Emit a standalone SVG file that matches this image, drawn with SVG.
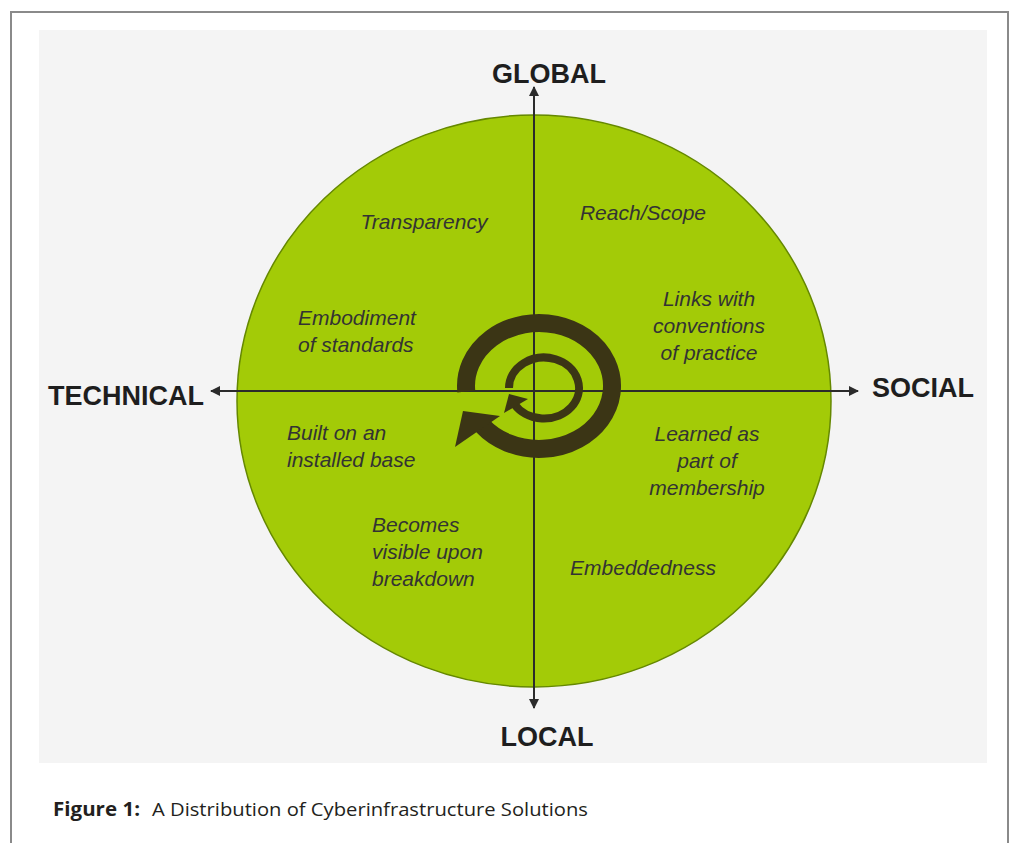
<svg xmlns="http://www.w3.org/2000/svg" width="1014" height="843" viewBox="0 0 1014 843">
  <defs>
    <style>
      .frame { fill: none; stroke: #8a8a8a; stroke-width: 2; }
      .axis { stroke: #2b2b2b; stroke-width: 2; fill: none; }
      .axis-label { font-family: "Liberation Sans", Arial, sans-serif; font-weight: bold; font-size: 27px; fill: #1e1e1e; }
      .item { font-family: "Liberation Sans", Arial, sans-serif; font-style: italic; font-size: 21px; fill: #333333; }
      .cycle { fill: none; stroke: #3b3515; }
      .cycle-head { fill: #3b3515; }
      .caption { font-family: "Open Sans", "Liberation Sans", sans-serif; font-size: 19px; fill: #231f20; }
    </style>
    <marker id="arrow" viewBox="0 0 10 10" refX="9" refY="5" markerWidth="5" markerHeight="5" orient="auto-start-reverse" markerUnits="strokeWidth">
      <path d="M0,0 L10,5 L0,10 z" fill="#2b2b2b"/>
    </marker>
  </defs>

  <!-- page frame -->
  <rect x="0" y="0" width="1014" height="843" fill="#ffffff"/>
  <path class="frame" d="M11,843 V12 H1008 V843"/>

  <!-- figure background -->
  <rect x="39" y="30" width="948" height="733" fill="#f4f4f4"/>

  <!-- main disc -->
  <g id="disc">
    <ellipse cx="534" cy="401" rx="297" ry="286" fill="#a3cb07" stroke="#658800" stroke-width="1.5"/>
  </g>

  <!-- axes -->
  <g id="connectors">
    <line class="axis" x1="534" y1="391" x2="858" y2="391" marker-end="url(#arrow)"/>
    <line class="axis" x1="534" y1="391" x2="211" y2="391" marker-end="url(#arrow)"/>
    <line class="axis" x1="534" y1="391" x2="534" y2="87" marker-end="url(#arrow)"/>
    <line class="axis" x1="534" y1="391" x2="534" y2="708" marker-end="url(#arrow)"/>
  </g>

  <!-- central cycle symbol -->
  <g id="cycle">
    <path class="cycle" stroke-width="18" d="M466.3,391.5 A73,63 0 1 1 482.3,425.6"/>
    <polygon class="cycle-head" points="463,411 500,416 455,447"/>
    <path class="cycle" stroke-width="8" d="M509,388 A35,30.5 0 1 1 514.3,404.2"/>
    <polygon class="cycle-head" points="509,394 528,399 504,413"/>
  </g>

  <!-- axis labels -->
  <g id="label-global"><text class="axis-label" x="549" y="83" text-anchor="middle">GLOBAL</text></g>
  <g id="label-local"><text class="axis-label" x="547" y="746" text-anchor="middle">LOCAL</text></g>
  <g id="label-technical"><text class="axis-label" x="48" y="405">TECHNICAL</text></g>
  <g id="label-social"><text class="axis-label" x="872" y="397">SOCIAL</text></g>

  <!-- quadrant items -->
  <g id="transparency"><text class="item" x="424" y="229" text-anchor="middle">Transparency</text></g>
  <g id="reach-scope"><text class="item" x="643" y="220" text-anchor="middle">Reach/Scope</text></g>
  <g id="embodiment">
    <text class="item" x="298" y="325">Embodiment</text>
    <text class="item" x="298" y="352">of standards</text>
  </g>
  <g id="links">
    <text class="item" x="709" y="306" text-anchor="middle">Links with</text>
    <text class="item" x="709" y="333" text-anchor="middle">conventions</text>
    <text class="item" x="709" y="360" text-anchor="middle">of practice</text>
  </g>
  <g id="installed-base">
    <text class="item" x="287" y="440">Built on an</text>
    <text class="item" x="287" y="467">installed base</text>
  </g>
  <g id="membership">
    <text class="item" x="707" y="441" text-anchor="middle">Learned as</text>
    <text class="item" x="707" y="468" text-anchor="middle">part of</text>
    <text class="item" x="707" y="495" text-anchor="middle">membership</text>
  </g>
  <g id="breakdown">
    <text class="item" x="372" y="532">Becomes</text>
    <text class="item" x="372" y="559">visible upon</text>
    <text class="item" x="372" y="586">breakdown</text>
  </g>
  <g id="embeddedness"><text class="item" x="643" y="575" text-anchor="middle">Embeddedness</text></g>

  <!-- caption -->
  <g id="caption">
    <text class="caption" x="53" y="816" font-weight="bold" textLength="87" lengthAdjust="spacingAndGlyphs">Figure 1:</text>
    <text class="caption" x="152" y="816" textLength="436" lengthAdjust="spacingAndGlyphs">A Distribution of Cyberinfrastructure Solutions</text>
  </g>
</svg>
